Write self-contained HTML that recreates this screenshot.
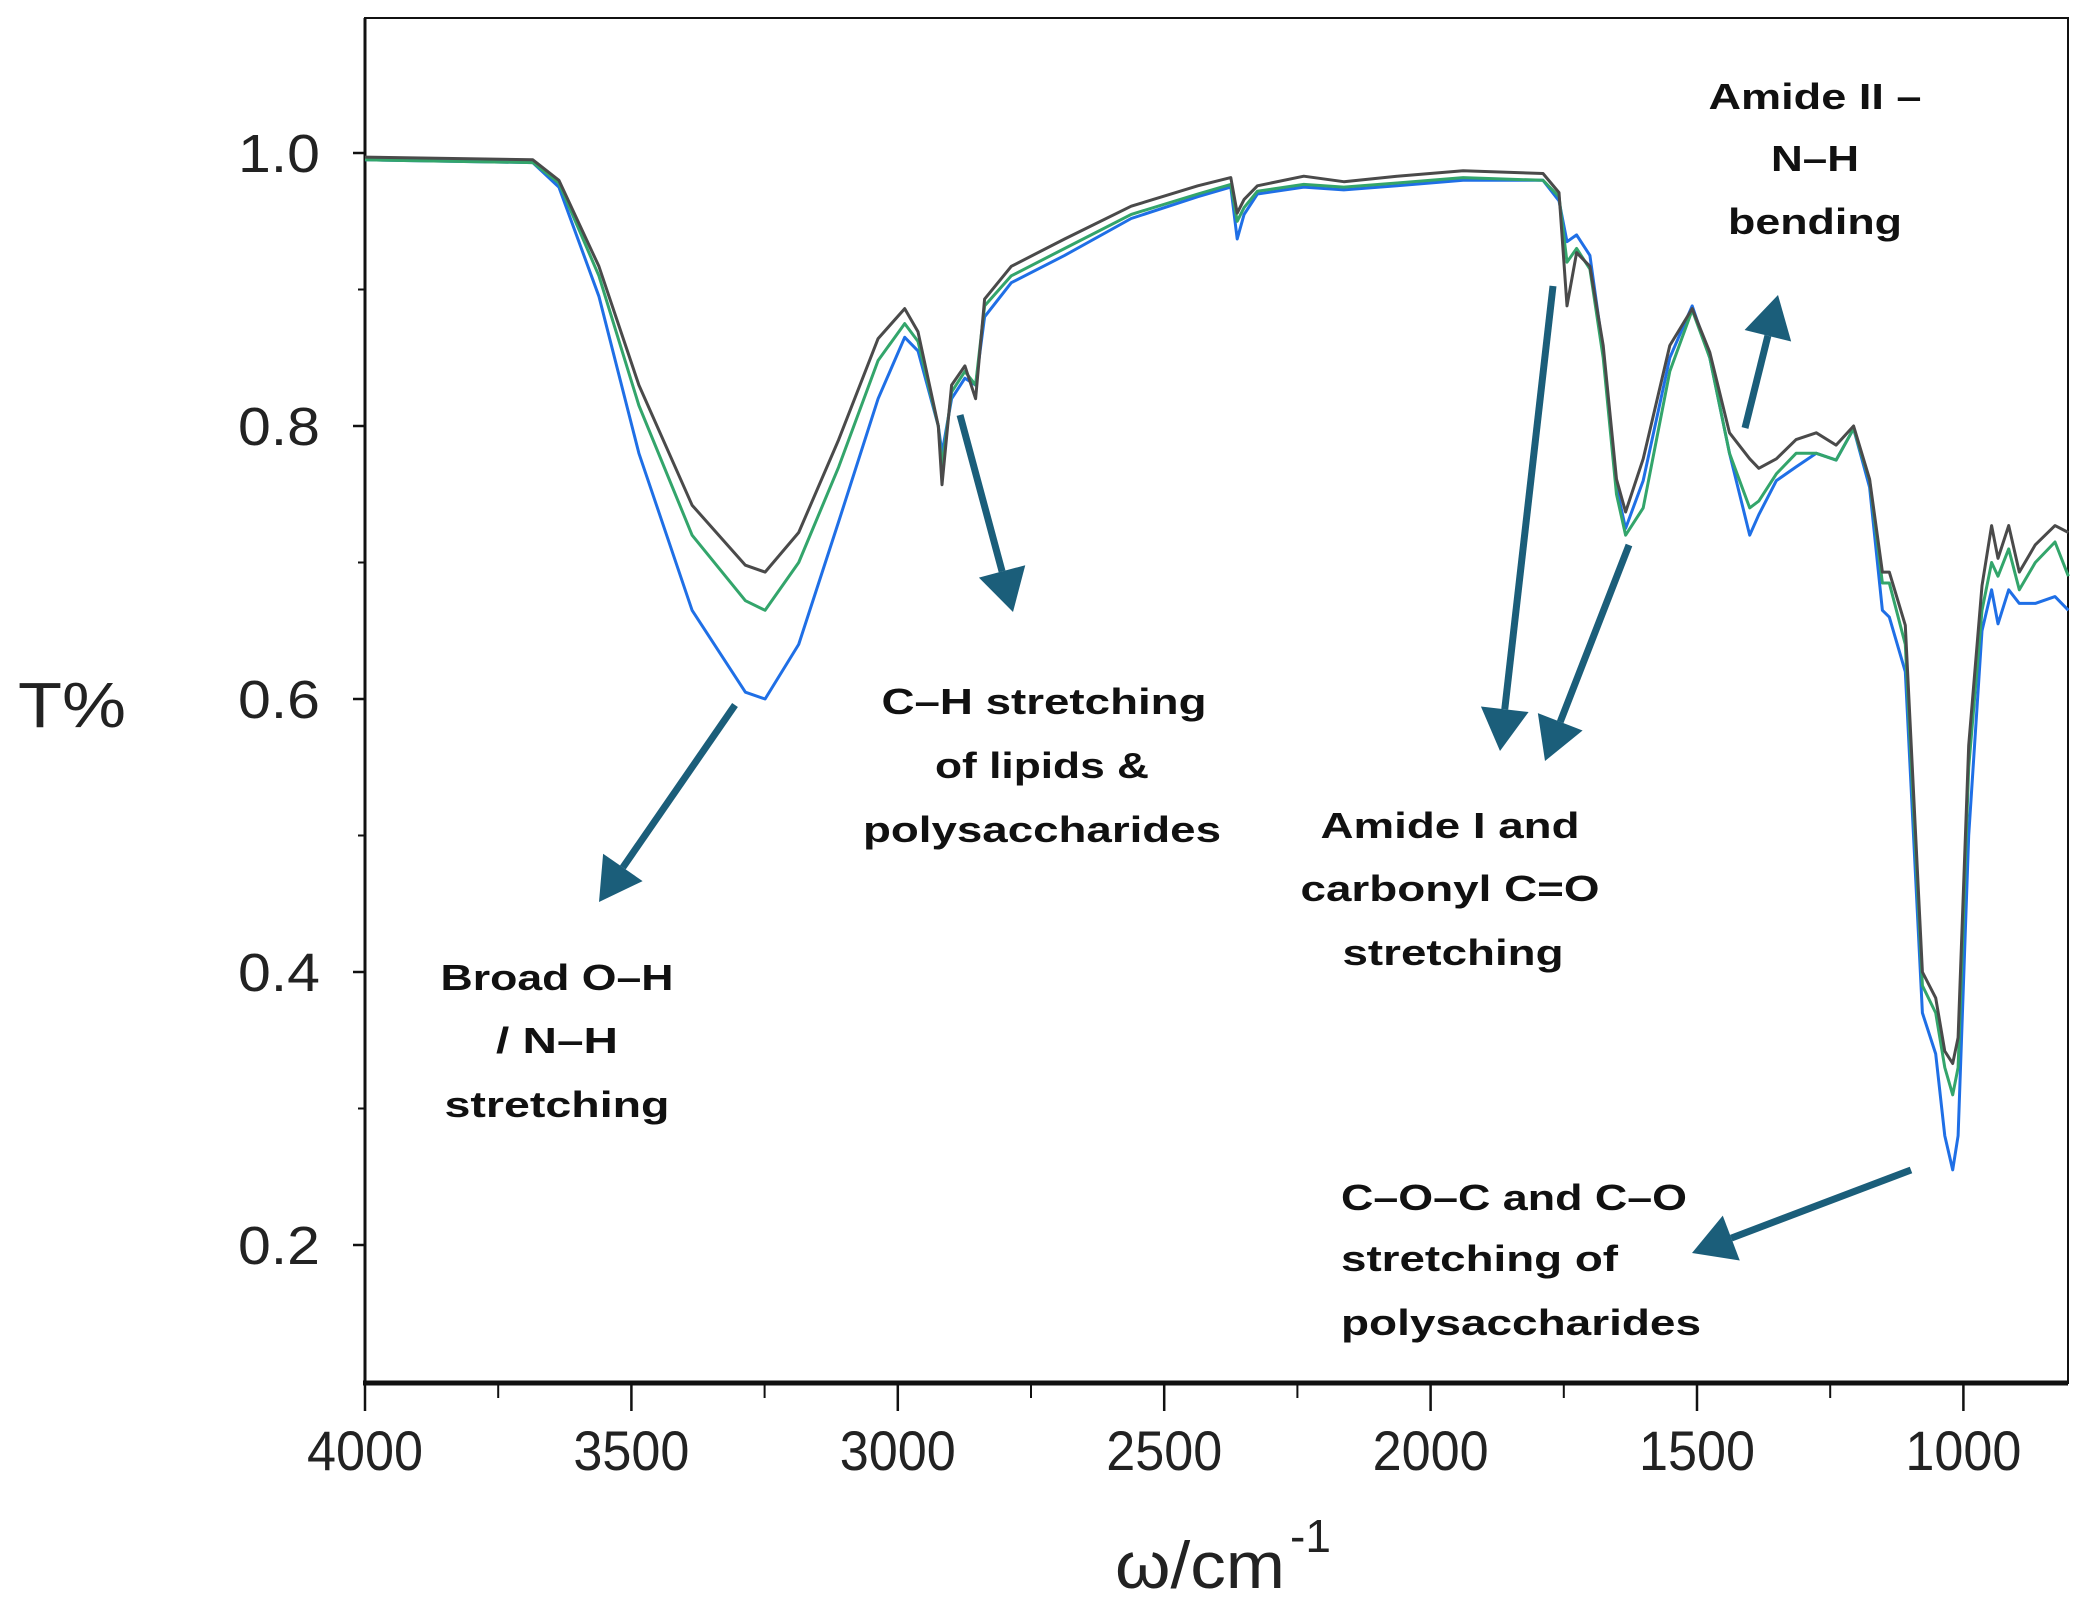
<!DOCTYPE html>
<html><head><meta charset="utf-8"><style>
html,body{margin:0;padding:0;background:#fff}
svg{display:block}
text{font-family:"Liberation Sans",sans-serif}
.ann{font-weight:bold;font-size:36px;fill:#111}
.tick{fill:#222}
</style></head><body>
<svg id="chart" width="2085" height="1608" viewBox="0 0 2085 1608" xmlns="http://www.w3.org/2000/svg">
<g id="axes"></g>
<g id="series"></g>
<g id="annotations">
<text class="ann" x="557" y="990" text-anchor="middle" textLength="233" lengthAdjust="spacingAndGlyphs">Broad O–H</text>
<text class="ann" x="557" y="1053" text-anchor="middle" textLength="122" lengthAdjust="spacingAndGlyphs">/ N–H</text>
<text class="ann" x="557" y="1117" text-anchor="middle" textLength="225" lengthAdjust="spacingAndGlyphs">stretching</text>
<text class="ann" x="1044" y="714" text-anchor="middle" textLength="325" lengthAdjust="spacingAndGlyphs">C–H stretching</text>
<text class="ann" x="1042" y="778" text-anchor="middle" textLength="214" lengthAdjust="spacingAndGlyphs">of lipids &amp;</text>
<text class="ann" x="1042" y="842" text-anchor="middle" textLength="358" lengthAdjust="spacingAndGlyphs">polysaccharides</text>
<text class="ann" x="1450" y="838" text-anchor="middle" textLength="259" lengthAdjust="spacingAndGlyphs">Amide I and</text>
<text class="ann" x="1450" y="901" text-anchor="middle" textLength="299" lengthAdjust="spacingAndGlyphs">carbonyl C=O</text>
<text class="ann" x="1453" y="965" text-anchor="middle" textLength="221" lengthAdjust="spacingAndGlyphs">stretching</text>
<text class="ann" x="1815" y="109" text-anchor="middle" textLength="213" lengthAdjust="spacingAndGlyphs">Amide II –</text>
<text class="ann" x="1815" y="171" text-anchor="middle" textLength="88" lengthAdjust="spacingAndGlyphs">N–H</text>
<text class="ann" x="1815" y="234" text-anchor="middle" textLength="174" lengthAdjust="spacingAndGlyphs">bending</text>
<text class="ann" x="1341" y="1210" textLength="346" lengthAdjust="spacingAndGlyphs">C–O–C and C–O</text>
<text class="ann" x="1341" y="1271" textLength="277" lengthAdjust="spacingAndGlyphs">stretching of</text>
<text class="ann" x="1341" y="1335" textLength="360" lengthAdjust="spacingAndGlyphs">polysaccharides</text>
</g>
<g id="arrows"></g>
</svg>
<script>
const wavenumbers=[4000,3685,3636,3561,3486,3386,3286,3249,3186,3111,3037,2987,2962,2924,2917,2899,2874,2854,2837,2787,2687,2562,2437,2375,2363,2350,2325,2238,2163,2063,1939,1789,1759,1744,1726,1701,1676,1651,1634,1601,1551,1509,1476,1439,1401,1384,1351,1314,1276,1239,1206,1176,1152,1139,1109,1077,1052,1035,1020,1010,990,965,947,935,915,895,865,828,803];
const seriesGray=[0.997,0.995,0.98,0.917,0.83,0.742,0.698,0.693,0.722,0.79,0.864,0.886,0.869,0.80,0.757,0.83,0.844,0.82,0.893,0.917,0.937,0.961,0.976,0.982,0.956,0.966,0.976,0.983,0.979,0.983,0.987,0.985,0.971,0.888,0.927,0.917,0.859,0.761,0.737,0.776,0.859,0.886,0.854,0.795,0.776,0.769,0.776,0.790,0.795,0.786,0.80,0.761,0.693,0.693,0.654,0.40,0.381,0.342,0.333,0.352,0.566,0.683,0.727,0.703,0.727,0.693,0.713,0.727,0.722];
const seriesGreen=[0.995,0.993,0.978,0.91,0.815,0.72,0.672,0.665,0.70,0.77,0.848,0.875,0.862,0.80,0.77,0.825,0.84,0.83,0.888,0.91,0.93,0.955,0.97,0.977,0.95,0.96,0.972,0.977,0.975,0.978,0.982,0.98,0.968,0.92,0.93,0.915,0.85,0.75,0.72,0.74,0.84,0.885,0.85,0.78,0.74,0.745,0.765,0.78,0.78,0.775,0.798,0.76,0.685,0.685,0.64,0.39,0.37,0.33,0.31,0.33,0.55,0.665,0.70,0.69,0.71,0.68,0.70,0.715,0.69];
const seriesBlue=[0.995,0.993,0.975,0.895,0.78,0.665,0.605,0.60,0.64,0.73,0.82,0.865,0.855,0.80,0.78,0.82,0.835,0.83,0.88,0.905,0.925,0.952,0.968,0.975,0.937,0.955,0.97,0.975,0.973,0.976,0.98,0.98,0.965,0.935,0.94,0.925,0.855,0.755,0.725,0.76,0.85,0.888,0.85,0.78,0.72,0.735,0.76,0.77,0.78,0.775,0.798,0.755,0.665,0.66,0.62,0.37,0.34,0.28,0.255,0.28,0.5,0.65,0.68,0.655,0.68,0.67,0.67,0.675,0.665];
const xTicks=[4000,3500,3000,2500,2000,1500,1000];
const xMinor=[3750,3250,2750,2250,1750,1250];
const yTicks=[0.2,0.4,0.6,0.8,1.0];
const yMinor=[0.3,0.5,0.7,0.9];

const NS="http://www.w3.org/2000/svg";
const L=365,R=2068,T=18,B=1383;
function xs(w){return L+(4000-w)/500*266.4;}
function ys(v){return 153+(1.0-v)/0.2*273;}
function mk(tag,attrs,parent){const e=document.createElementNS(NS,tag);for(const k in attrs)e.setAttribute(k,attrs[k]);parent.appendChild(e);return e;}
const axes=document.getElementById('axes');
let box=mk('rect',{x:L,y:T,width:R-L,height:B-T,fill:'none',stroke:'#111','stroke-width':2},axes);


let yl=mk('line',{x1:L,y1:T,x2:L,y2:B,stroke:'#111','stroke-width':3},axes);


let xl=mk('line',{x1:L-2,y1:B,x2:R,y2:B,stroke:'#111','stroke-width':5},axes);


xTicks.forEach(t=>{
  const x=xs(t);
  let l=mk('line',{x1:x,y1:B,x2:x,y2:B+28,stroke:'#111','stroke-width':2.5},axes);
  
  
  let tx=mk('text',{x:x,y:1470,'text-anchor':'middle',class:'tick','font-size':56,textLength:116,lengthAdjust:'spacingAndGlyphs'},axes);
  tx.textContent=t;
  
  
});
xMinor.forEach(t=>{
  const x=xs(t);
  let l=mk('line',{x1:x,y1:B,x2:x,y2:B+15,stroke:'#111','stroke-width':2},axes);
  
  
});
yTicks.forEach(t=>{
  const y=ys(t);
  let l=mk('line',{x1:L-12,y1:y,x2:L,y2:y,stroke:'#111','stroke-width':2.5},axes);
  
  
  let tx=mk('text',{x:320,y:y+19,'text-anchor':'end',class:'tick','font-size':54,textLength:82,lengthAdjust:'spacingAndGlyphs'},axes);
  tx.textContent=t.toFixed(1);
  
  
});
yMinor.forEach(t=>{
  const y=ys(t);
  let l=mk('line',{x1:L-7,y1:y,x2:L,y2:y,stroke:'#111','stroke-width':2},axes);
  
  
});
let xt=mk('text',{x:1115,y:1588,'font-size':66,fill:'#222',textLength:170,lengthAdjust:'spacingAndGlyphs'},axes);
xt.textContent='ω/cm';


let sup=mk('text',{x:1290,y:1552,'font-size':46,fill:'#222'},axes);
sup.textContent='-1';


let yt=mk('text',{x:18,y:727,'font-size':64,fill:'#222',textLength:108,lengthAdjust:'spacingAndGlyphs'},axes);
yt.textContent='T%';



const sg=document.getElementById('series');
function drawSeries(vals,color,name){
  const d=wavenumbers.map((w,i)=>(i?'L':'M')+xs(w).toFixed(1)+' '+ys(vals[i]).toFixed(1)).join(' ');
  const p=mk('path',{d:d,fill:'none',stroke:color,'stroke-width':3,'stroke-linejoin':'round'},sg);
  
  
}
drawSeries(seriesBlue,'#1f6fe6','series-blue');
drawSeries(seriesGreen,'#33a56b','series-green');
drawSeries(seriesGray,'#4a4a4a','series-gray');

const ag=document.getElementById('arrows');
function arrow(x1,y1,x2,y2,name){
  const dx=x2-x1,dy=y2-y1,len=Math.hypot(dx,dy),ux=dx/len,uy=dy/len;
  const hl=42,hw=24;
  const bx=x2-ux*hl,by=y2-uy*hl;
  const g=mk('g',{},ag);
  
  
  mk('line',{x1:x1,y1:y1,x2:bx,y2:by,stroke:'#1b5e7a','stroke-width':7},g);
  mk('polygon',{points:`${x2},${y2} ${bx-uy*hw},${by+ux*hw} ${bx+uy*hw},${by-ux*hw}`,fill:'#1b5e7a'},g);
}
arrow(735,705,599,902,'oh-arrow');
arrow(960,415,1013,612,'ch-arrow');
arrow(1553,286,1500,751,'amide1-arrow-a');
arrow(1629,545,1545,761,'amide1-arrow-b');
arrow(1745,428,1778,295,'amide2-arrow');
arrow(1911,1170,1692,1253,'coc-arrow');
</script>
</body></html>
